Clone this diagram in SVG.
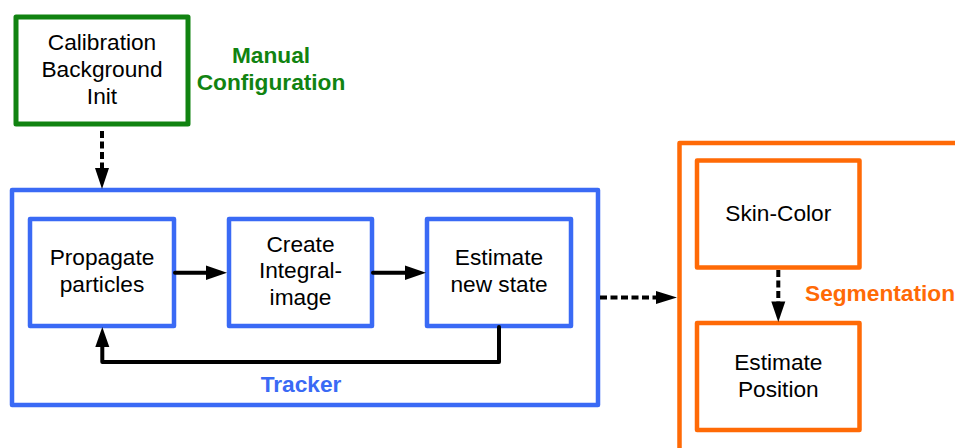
<svg xmlns="http://www.w3.org/2000/svg" width="955" height="448" viewBox="0 0 955 448">
  <defs>
    <style>
      .box { fill: #ffffff; stroke-linejoin: round; }
      .green { stroke: #118311; stroke-width: 5; }
      .blue { stroke: #3a6af5; stroke-width: 4.5; }
      .orange { stroke: #ff6a06; stroke-width: 4.5; }
      .frame { fill: none; stroke-linejoin: round; }
      .lbl { font-family: "Liberation Sans", Arial, sans-serif; font-size: 22.7px; fill: #000000; text-anchor: middle; }
      .title { font-family: "Liberation Sans", Arial, sans-serif; font-size: 22.7px; font-weight: bold; }
      .solid { fill: none; stroke: #000000; stroke-width: 4; stroke-linejoin: round; stroke-linecap: round; }
      .dash { fill: none; stroke: #000000; stroke-width: 4; stroke-dasharray: 7 3.5; }
      .head { fill: #000000; }
    </style>
  </defs>

  <!-- manual configuration block -->
  <g id="calibration">
    <rect class="box green" x="16" y="17" width="172" height="107"/>
    <text class="lbl" x="102" y="50">Calibration</text>
    <text class="lbl" x="102" y="77">Background</text>
    <text class="lbl" x="102" y="104">Init</text>
  </g>
  <g id="manual-config-label">
    <text class="title" x="271" y="63" fill="#118311" text-anchor="middle">Manual</text>
    <text class="title" x="271" y="90" fill="#118311" text-anchor="middle">Configuration</text>
  </g>

  <!-- tracker group -->
  <g id="tracker">
    <rect class="frame blue" x="12" y="190" width="586" height="215"/>
    <text class="title" x="301" y="392" fill="#3a6af5" text-anchor="middle">Tracker</text>
  </g>
  <g id="propagate">
    <rect class="box blue" x="30" y="219" width="144" height="107"/>
    <text class="lbl" x="102" y="265">Propagate</text>
    <text class="lbl" x="102" y="291.5">particles</text>
  </g>
  <g id="integral">
    <rect class="box blue" x="229" y="219" width="143" height="107"/>
    <text class="lbl" x="300.5" y="251.5">Create</text>
    <text class="lbl" x="300.5" y="278.2">Integral-</text>
    <text class="lbl" x="300.5" y="305">image</text>
  </g>
  <g id="estimate-state">
    <rect class="box blue" x="427" y="219" width="144" height="107"/>
    <text class="lbl" x="499" y="265">Estimate</text>
    <text class="lbl" x="499" y="291.5">new state</text>
  </g>

  <!-- segmentation group -->
  <g id="segmentation">
    <rect class="frame orange" x="679.5" y="143" width="300" height="330"/>
    <text class="title" x="805" y="300.5" fill="#ff6a06">Segmentation</text>
  </g>
  <g id="skin-color">
    <rect class="box orange" x="697" y="160.5" width="162.5" height="107"/>
    <text class="lbl" x="778.3" y="220.7">Skin-Color</text>
  </g>
  <g id="estimate-position">
    <rect class="box orange" x="697" y="323" width="162.5" height="107"/>
    <text class="lbl" x="778.3" y="370">Estimate</text>
    <text class="lbl" x="778.3" y="396.7">Position</text>
  </g>

  <!-- connectors -->
  <g id="connectors">
    <!-- calibration to tracker -->
    <line class="dash" x1="102" y1="131" x2="102" y2="168"/>
    <polygon class="head" points="95,168 109,168 102,189"/>

    <!-- propagate to integral image -->
    <line class="solid" x1="175" y1="272.7" x2="207" y2="272.7"/>
    <polygon class="head" points="206,265.5 206,280 227,272.7"/>

    <!-- integral image to estimate -->
    <line class="solid" x1="373" y1="272.7" x2="406" y2="272.7"/>
    <polygon class="head" points="405,265.5 405,280 426,272.7"/>

    <!-- feedback loop -->
    <polyline class="solid" points="499,327 499,362 102.3,362 102.3,346"/>
    <polygon class="head" points="95.3,347 109.3,347 102.3,327"/>

    <!-- tracker to segmentation -->
    <line class="dash" x1="600" y1="297.5" x2="657" y2="297.5"/>
    <polygon class="head" points="656,291 656,304 677,297.5"/>

    <!-- skin-color to position -->
    <line class="dash" x1="778.3" y1="270" x2="778.3" y2="302"/>
    <polygon class="head" points="771.3,301.5 785.3,301.5 778.3,322"/>
  </g>
</svg>
